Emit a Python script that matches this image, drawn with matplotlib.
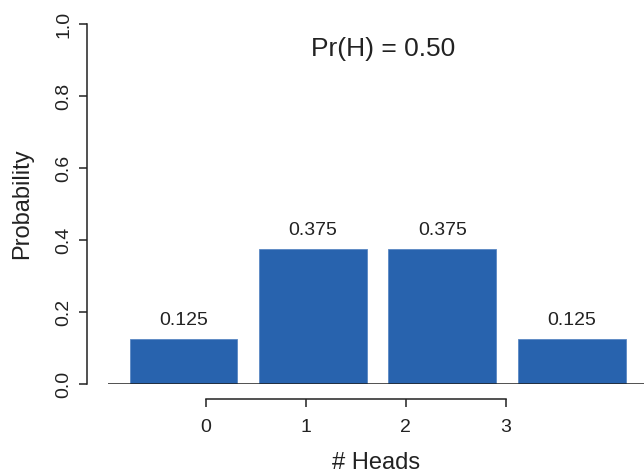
import matplotlib

matplotlib.use("Agg")
import matplotlib.pyplot as plt
import numpy as np

# data
heads = [0, 1, 2, 3]
probs = [0.125, 0.375, 0.375, 0.125]
bar_labels = ["0.125", "0.375", "0.375", "0.125"]
y_ticks = [0.0, 0.2, 0.4, 0.6, 0.8, 1.0]
title = "Pr(H) = 0.50"

plt.rcParams["font.family"] = ["Liberation Sans", "DejaVu Sans"]
text_col = "#222222"
bar_col = "#2863ae"

fig = plt.figure(figsize=(6.44, 4.75), dpi=100)
ax = fig.add_axes([108 / 644, 91 / 475, 536 / 644, 360 / 475])

# R barplot style positions: width 1, space 0.2
xpos = np.array(heads) * 1.2 + 0.7
ax.bar(xpos, probs, width=1.0, color=bar_col, edgecolor="#5a88c4", linewidth=0.6, zorder=2)
ax.axhline(0, color=text_col, lw=1.1, zorder=3)
for x, p, s in zip(xpos, probs, bar_labels):
    ax.text(x, p + 0.027, s, ha="center", va="bottom", fontsize=14, color=text_col)

ax.text(2.55, 0.93, title, ha="center", va="center", fontsize=19, color=text_col)

ax.set_xlim(0, 4.97)
ax.set_ylim(0, 1)

# axis ticks sit offset from bars (like the original)
tick_pos = 0.908 + np.array(heads) * 0.927
ax.set_xticks(tick_pos)
ax.set_xticklabels([str(h) for h in heads])
ax.set_yticks(y_ticks)
ax.set_yticklabels([f"{v:.1f}" for v in y_ticks])

for side in ["top", "right"]:
    ax.spines[side].set_visible(False)
ax.spines["left"].set_position(("outward", 15))
ax.spines["left"].set_bounds(0, 1)
ax.spines["bottom"].set_position(("outward", 11))
ax.spines["bottom"].set_bounds(tick_pos[0], tick_pos[-1])
for side in ["left", "bottom"]:
    ax.spines[side].set_color(text_col)
    ax.spines[side].set_linewidth(1.1)

ax.tick_params(axis="x", length=5.5, width=1.1, color=text_col, labelsize=14,
               labelcolor=text_col, pad=9)
ax.tick_params(axis="y", length=5.5, width=1.1, color=text_col, labelsize=14,
               labelcolor=text_col, pad=5, labelrotation=90)
for lab in ax.get_yticklabels():
    lab.set_va("center")

ax.set_xlabel("# Heads", fontsize=17, color=text_col, labelpad=11)
ax.set_ylabel("Probability", fontsize=17, color=text_col, labelpad=16)

fig.savefig("out.png", dpi=100)
